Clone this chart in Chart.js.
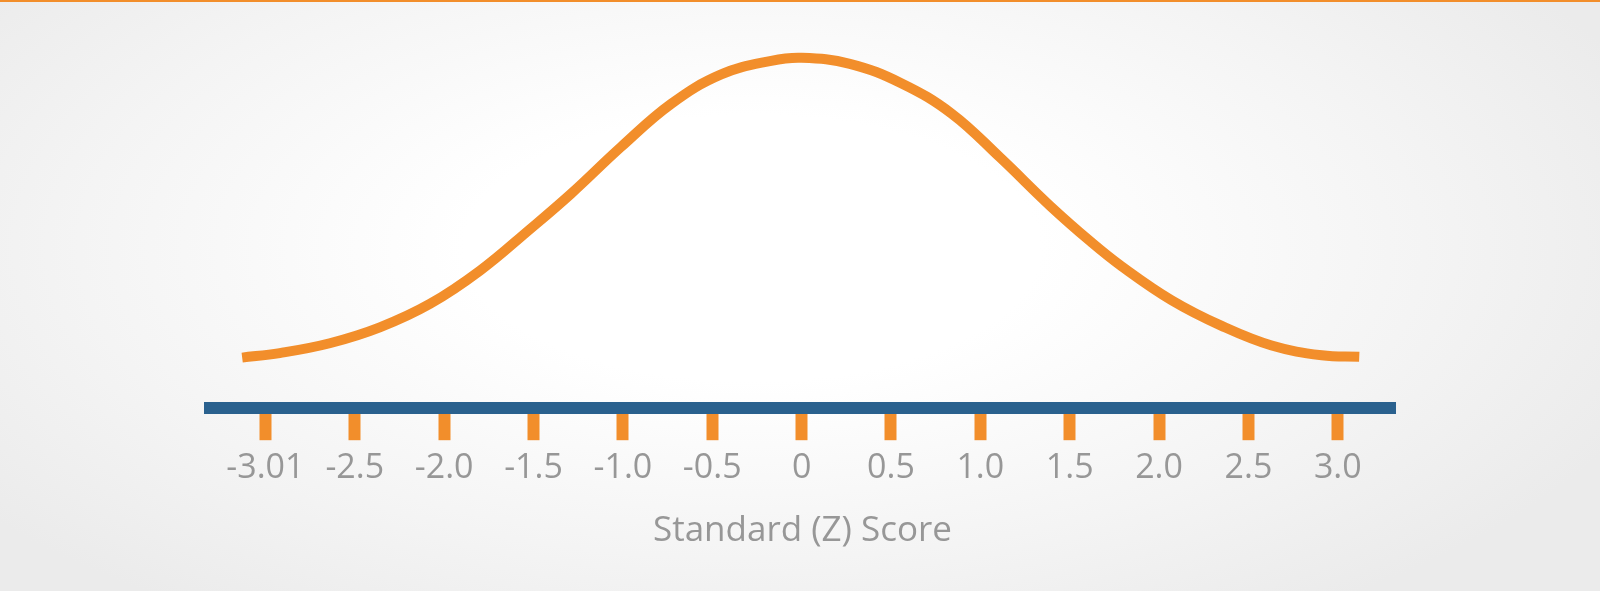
<!DOCTYPE html>
<html>
<head>
<meta charset="utf-8">
<script src="https://cdn.jsdelivr.net/npm/chart.js@4"></script>
<style>
  html, body { margin: 0; padding: 0; }
  body {
    width: 1600px; height: 591px; overflow: hidden; position: relative;
    background: radial-gradient(ellipse 60% 75% at 47% 42%, #ffffff 30%, #f4f4f4 70%, #ebebeb 100%);
  }
  #topline { position: absolute; left: 0; top: 0; width: 1600px; height: 2px; background: #f28e2b; }
  #wrap { position: absolute; left: 0; top: 0; width: 1600px; height: 591px; }
</style>
</head>
<body>
<div id="topline"></div>
<div id="wrap"><canvas id="myChart"></canvas></div>
<script>
// curve: z score and relative height
const curve_z = [-3.13, -2.92, -2.64, -2.36, -2.08, -1.80, -1.52, -1.29, -1.01, -0.73, -0.45, -0.17, 0,
                 0.27, 0.56, 0.84, 1.11, 1.39, 1.62, 1.79, 2.07, 2.35, 2.63, 2.91, 3.12];
const curve_height = [0.002, 0.008, 0.021, 0.042, 0.073, 0.117, 0.172, 0.219, 0.281, 0.338, 0.377, 0.395, 0.399,
                      0.391, 0.365, 0.325, 0.267, 0.203, 0.155, 0.123, 0.078, 0.044, 0.018, 0.005, 0.003];
// axis ticks and the text under them
const tick_values = [-3, -2.5, -2, -1.5, -1, -0.5, 0, 0.5, 1, 1.5, 2, 2.5, 3];
const tick_labels = ['-3.01', '-2.5', '-2.0', '-1.5', '-1.0', '-0.5', '0', '0.5', '1.0', '1.5', '2.0', '2.5', '3.0'];
const axis_title = 'Standard (Z) Score';

const orange = '#f28e2b';
const blue = '#2a618e';
const grey = '#979797';

const points = curve_z.map((z, i) => ({ x: z, y: curve_height[i] }));

const ctx = document.getElementById('myChart');
const myChart = new Chart(ctx, {
  type: 'line',
  data: {
    datasets: [{
      label: 'curve',
      data: points,
      borderColor: orange,
      borderWidth: 10,
      borderCapStyle: 'butt',
      pointRadius: 0,
      fill: false,
      tension: 0.4
    }]
  },
  options: {
    responsive: true,
    maintainAspectRatio: false,
    animation: false,
    layout: { padding: { left: 210, right: 205, top: 20, bottom: 39 } },
    plugins: { legend: { display: false }, tooltip: { enabled: false } },
    scales: {
      x: {
        type: 'linear',
        min: -3.31,
        max: 3.32,
        afterBuildTicks: (axis) => { axis.ticks = tick_values.map(v => ({ value: v })); },
        border: { display: true, color: blue, width: 12 },
        grid: {
          drawOnChartArea: false,
          drawTicks: true,
          tickLength: 32,
          tickWidth: 12,
          tickColor: orange
        },
        ticks: {
          padding: 8,
          color: grey,
          maxRotation: 0,
          autoSkip: false,
          font: { family: 'Open Sans', size: 34 },
          callback: (value, index) => tick_labels[index]
        },
        title: {
          display: true,
          text: axis_title,
          color: grey,
          padding: { top: 13, bottom: 0 },
          font: { family: 'Open Sans', size: 35 }
        }
      },
      y: {
        display: false,
        min: -0.065,
        max: 0.449
      }
    }
  }
});
</script>
</body>
</html>
